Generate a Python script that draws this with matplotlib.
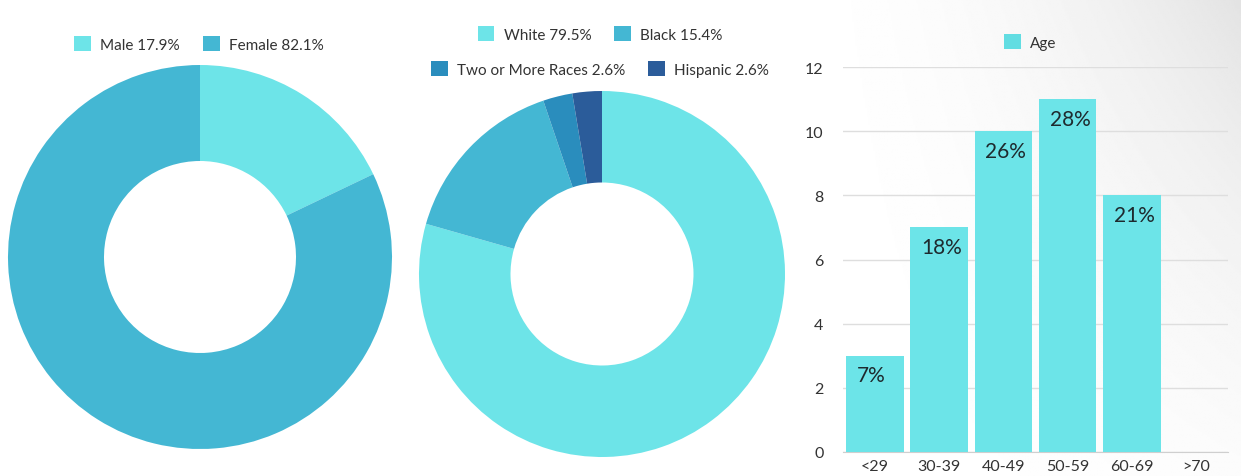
import numpy as np
import matplotlib.pyplot as plt
from matplotlib.patches import Patch

plt.rcParams['font.family'] = ['Lato', 'DejaVu Sans']

# gender split
gender_labels = ['Male', 'Female']
gender_pct = [17.9, 82.1]
gender_colors = ['#6de4e8', '#44b7d3']

# race split
race_labels = ['White', 'Black', 'Two or More Races', 'Hispanic']
race_pct = [79.5, 15.4, 2.6, 2.6]
race_colors = ['#6de4e8', '#44b7d3', '#2a8dbd', '#2b5c9a']

# age groups
age_groups = ['<29', '30-39', '40-49', '50-59', '60-69', '>70']
age_counts = [3, 7, 10, 11, 8, 0]
age_pct_text = ['7%', '18%', '26%', '28%', '21%', '']

W, H = 1241, 477
fig = plt.figure(figsize=(W / 100, H / 100), dpi=100)

# faint grey shading behind the bar chart, darkest in the top right corner
bg = fig.add_axes([760 / W, 0, 481 / W, 1], zorder=-5)
xx, yy = np.meshgrid(np.linspace(0, 1, 300), np.linspace(1, 0, 300))
shade = np.clip(xx * (0.35 + 0.65 * yy), 0, 1) ** 2
bg.imshow(1 - 0.11 * shade, cmap='gray', vmin=0, vmax=1, aspect='auto',
          extent=[0, 1, 0, 1])
bg.axis('off')


def donut(rect, values, colors):
    ax = fig.add_axes(rect)
    ax.pie(values, colors=colors, startangle=90, counterclock=False,
           wedgeprops=dict(width=0.5, edgecolor='none'))
    ax.set_xlim(-1, 1)
    ax.set_ylim(-1, 1)
    ax.set_aspect('equal')
    return ax


def legend_square(ax, labels, colors, anchor, ncol):
    handles = [Patch(facecolor=c, edgecolor='none') for c in colors]
    ax.legend(handles, labels, loc='center', bbox_to_anchor=anchor,
              bbox_transform=fig.transFigure, ncol=ncol, frameon=False,
              fontsize=11, handlelength=1.1, handleheight=1.1,
              handletextpad=0.6, columnspacing=1.5, labelcolor='#333333')


ax1 = donut([8 / W, 27 / H, 384 / W, 384 / H], gender_pct, gender_colors)
legend_square(ax1, [f'{l} {v}%' for l, v in zip(gender_labels, gender_pct)],
              gender_colors, (199 / W, 1 - 45 / H), 2)

ax2 = donut([419 / W, 19 / H, 366 / W, 366 / H], race_pct, race_colors)
race_text = [f'{l} {v}%' for l, v in zip(race_labels, race_pct)]
legend_square(ax2, race_text[:2], race_colors[:2], (600 / W, 1 - 35 / H), 2)
leg2 = ax2.get_legend()
legend_square(ax2, race_text[2:], race_colors[2:], (600 / W, 1 - 70 / H), 2)
ax2.add_artist(leg2)

# age bar chart
ax3 = fig.add_axes([843 / W, 24 / H, 385 / W, 385 / H])
ax3.set_facecolor('none')
x = np.arange(len(age_groups))
bars = ax3.bar(x, age_counts, width=0.9, color='#6ce4e8', zorder=3)
for b, t in zip(bars, age_pct_text):
    if t:
        ax3.text(b.get_x() + 0.17, b.get_height() - 0.3, t, ha='left', va='top',
                 fontsize=15, color='#1e2a2e', zorder=4)
ax3.set_xlim(-0.5, len(age_groups) - 0.5)
ax3.set_ylim(0, 12)
ax3.set_yticks(range(0, 13, 2))
ax3.set_xticks(x)
ax3.set_xticklabels(age_groups)
ax3.yaxis.grid(True, color='#dedede', linewidth=1)
ax3.set_axisbelow(True)
for s in ['top', 'right', 'left']:
    ax3.spines[s].set_visible(False)
ax3.spines['bottom'].set_color('#cfcfcf')
ax3.tick_params(length=0, labelsize=11.5, colors='#333333')
ax3.tick_params(axis='y', pad=14)
ax3.tick_params(axis='x', pad=5)
ax3.legend([Patch(facecolor='#62dde2', edgecolor='none')], ['Age'],
           loc='center', bbox_to_anchor=(1030 / W, 1 - 43 / H),
           bbox_transform=fig.transFigure, frameon=False, fontsize=11,
           handlelength=1.1, handleheight=1.1, handletextpad=0.6,
           labelcolor='#333333')

fig.savefig('out.png', dpi=100)
